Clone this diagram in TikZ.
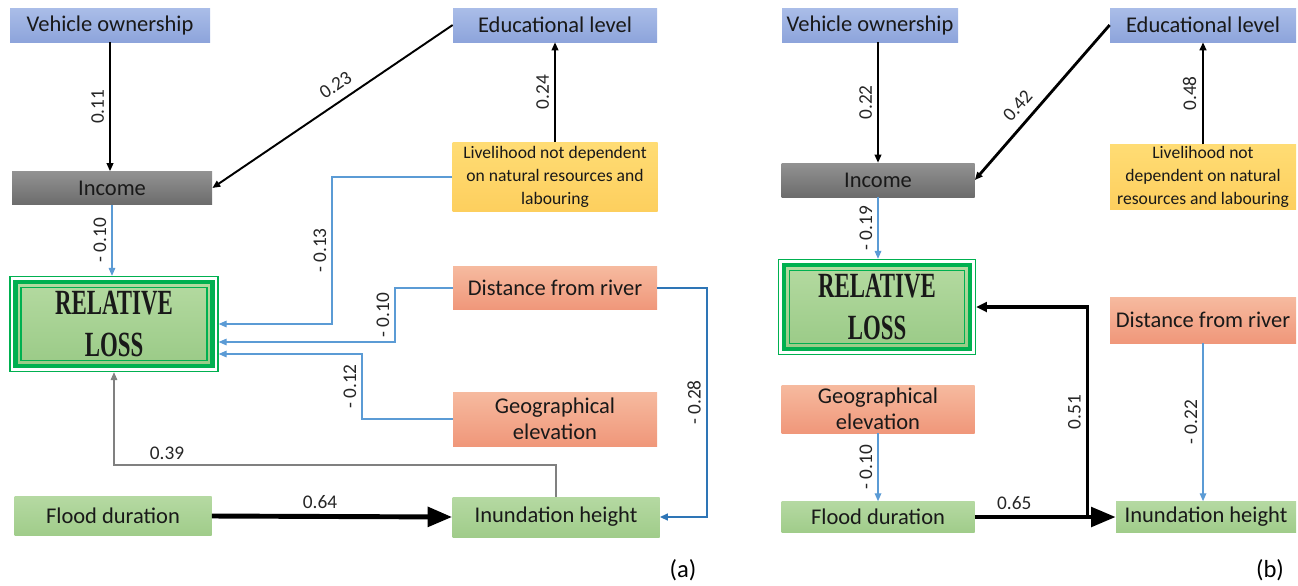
\documentclass[tikz,border=0pt]{standalone}
\usepackage{fontspec}
\setmainfont{Carlito}
\newfontfamily\rlfont{Liberation Serif}
\usetikzlibrary{arrows.meta}

\definecolor{blueT}{HTML}{AABDE8}
\definecolor{blueB}{HTML}{8DA4DB}
\definecolor{grayT}{HTML}{929292}
\definecolor{grayB}{HTML}{6C6C6C}
\definecolor{yelT}{HTML}{FFDC74}
\definecolor{yelB}{HTML}{FDCF5E}
\definecolor{salT}{HTML}{F6BA9F}
\definecolor{salB}{HTML}{F0977A}
\definecolor{grnT}{HTML}{B5D9A2}
\definecolor{grnB}{HTML}{A0CC8A}
\definecolor{rlT}{HTML}{B6DBA2}
\definecolor{rlB}{HTML}{98C985}
\definecolor{rlgreen}{HTML}{00B050}
\definecolor{lineblue}{HTML}{5B9BD5}
\definecolor{darkblue}{HTML}{2E75B6}
\definecolor{linegray}{HTML}{808080}

\tikzset{
    box/.style={rectangle, inner sep=1pt, align=center, text=black!90,
        font=\fontsize{12.8}{15}\selectfont},
    wh/.style 2 args={minimum width=#1*0.2mm, minimum height=#2*0.2mm},
    blue box/.style={box, top color=blueT, bottom color=blueB},
    gray box/.style={box, top color=grayT, bottom color=grayB},
    yellow box/.style={box, top color=yelT, bottom color=yelB,
        font=\fontsize{10}{13}\selectfont},
    salmon box/.style={box, top color=salT, bottom color=salB},
    green box/.style={box, top color=grnT, bottom color=grnB},
    rl box/.style={box, draw=rlgreen, line width=0.8pt, fill=white,
        font=\rlfont\bfseries\fontsize{13}{24}\selectfont,
        path picture={
            \draw[rlgreen, line width=2.6pt, top color=rlT, bottom color=rlB]
                ([shift={(1.1mm,-1.1mm)}]path picture bounding box.north west) rectangle
                ([shift={(-1.1mm,1.1mm)}]path picture bounding box.south east);
            \draw[rlgreen, line width=0.8pt]
                ([shift={(2.2mm,-2.2mm)}]path picture bounding box.north west) rectangle
                ([shift={(-2.2mm,2.2mm)}]path picture bounding box.south east);
        }},
    lab/.style={font=\fontsize{11}{12}\selectfont, text=black!85, inner sep=3pt},
    vlab/.style={lab, rotate=90, above},
    panel/.style={font=\fontsize{14}{16}\selectfont},
    arr/.style={-{Triangle[length=4.5pt, width=3.8pt]}},
    blk/.style={arr, draw=black, line width=0.8pt},
    blu/.style={arr, draw=lineblue, line width=0.6pt},
    big/.style={-{Triangle[length=14pt, width=11pt]}, draw=black, line width=2.8pt}
    }

\newcommand{\rltext}{\scalebox{1}[1.55]{RELATIVE}\\\scalebox{1}[1.55]{LOSS}}

\begin{document}
\begin{tikzpicture}[x=0.2mm, y=-0.2mm]
\useasboundingbox (0,0) rectangle (1298,585);

% Panel (a)
\node[blue box, wh={200}{34}] (vehA) at (110,25) {Vehicle ownership};
\node[blue box, wh={204}{34}] (eduA) at (555,25) {Educational level};
\node[gray box, wh={200}{33}] (incA) at (112,188) {Income};
\node[yellow box, wh={205}{69}] (livA) at (555,177) {Livelihood not dependent\\on natural resources and\\labouring};
\node[rl box, wh={208}{95}] (rlA) at (114,324) {\rltext};
\node[salmon box, wh={204}{43}] (disA) at (555,288) {Distance from river};
\node[salmon box, wh={204}{54}] (geoA) at (555,419) {Geographical\\elevation};
\node[green box, wh={197}{39}] (floA) at (113,516) {Flood duration};
\node[green box, wh={207}{40}] (innA) at (556,517) {Inundation height};
\node[panel] (capA) at (683,570) {(a)};

\coordinate (kA1) at (332,0);
\coordinate (kA2) at (395,0);
\coordinate (kA3) at (362,0);
\coordinate (kA4) at (0,465);
\coordinate (kA5) at (707,0);
\coordinate (tA2) at ([yshift=-3.6mm]rlA.east);
\coordinate (tA3) at ([yshift=-6mm]rlA.east);

\draw[blk] (vehA.south) -- node[vlab]{0.11} (vehA.south |- incA.north);
\draw[blk, line width=1.1pt] (eduA.west) -- node[pos=0.45, lab, sloped, above=2pt]{0.23} (incA.east);
\draw[blk] (livA.north) -- node[vlab]{0.24} (eduA.south);
\draw[blu] (incA.south) -- node[vlab]{- 0.10} (incA.south |- rlA.north);
\draw[blu] (livA.west) -| node[pos=0.75, vlab]{- 0.13} (kA1 |- rlA.east) -- (rlA.east);
\draw[blu] (disA.west) -| node[pos=0.75, vlab]{- 0.10} (kA2 |- tA2) -- (tA2);
\draw[blu] (geoA.west) -| node[pos=0.75, vlab]{- 0.12} (kA3 |- tA3) -- (tA3);
\draw[arr, draw=darkblue, line width=1.1pt] (disA.east) -| node[pos=0.75, vlab]{- 0.28} (kA5 |- innA.east) -- (innA.east);
\draw[arr, draw=linegray, line width=0.6pt] (innA.north) |- node[pos=0.94, lab, above]{0.39} (kA4 -| rlA.south) -- (rlA.south);
\draw[big] (floA.east) -- node[pos=0.45, lab, above]{0.64} (innA.west);

% Panel (b)
\node[blue box, wh={176}{34}] (vehB) at (870,25) {Vehicle ownership};
\node[blue box, wh={186}{34}] (eduB) at (1203,25) {Educational level};
\node[gray box, wh={193}{34}] (incB) at (878,180) {Income};
\node[yellow box, wh={186}{62}] (livB) at (1203,177) {Livelihood not\\dependent on natural\\resources and labouring};
\node[rl box, wh={197}{95}] (rlB) at (877,307) {\rltext};
\node[salmon box, wh={186}{46}] (disB) at (1203,320) {Distance from river};
\node[salmon box, wh={193}{48}] (geoB) at (878,409) {Geographical\\elevation};
\node[green box, wh={193}{31}] (floB) at (878,517) {Flood duration};
\node[green box, wh={180}{31}] (innB) at (1206,517) {Inundation height};
\node[panel] (capB) at (1270,570) {(b)};

\draw[big, line width=2.5pt] (floB.east) -- coordinate[pos=0.8] (jB) node[pos=0.28, lab, above]{0.65} (innB.west);
\draw[blk] (incB.north |- vehB.south) -- node[vlab]{0.22} (incB.north);
\draw[blk, line width=1.6pt] (eduB.west) -- node[pos=0.59, lab, sloped, above=2pt]{0.42} (incB.east);
\draw[blk, line width=1.6pt] (livB.north) -- node[vlab]{0.48} (eduB.south);
\draw[blu] (incB.south) -- node[vlab]{- 0.19} (incB.south |- rlB.north);
\draw[blu] (geoB.south) -- node[vlab]{- 0.10} (floB.north);
\draw[blu] (disB.south) -- node[vlab]{- 0.22} (disB.south |- innB.north);
\draw[-{Triangle[length=6pt, width=5.5pt]}, line width=1.8pt] (jB) |- node[pos=0.25, vlab]{0.51} (rlB.east);
\end{tikzpicture}
\end{document}
